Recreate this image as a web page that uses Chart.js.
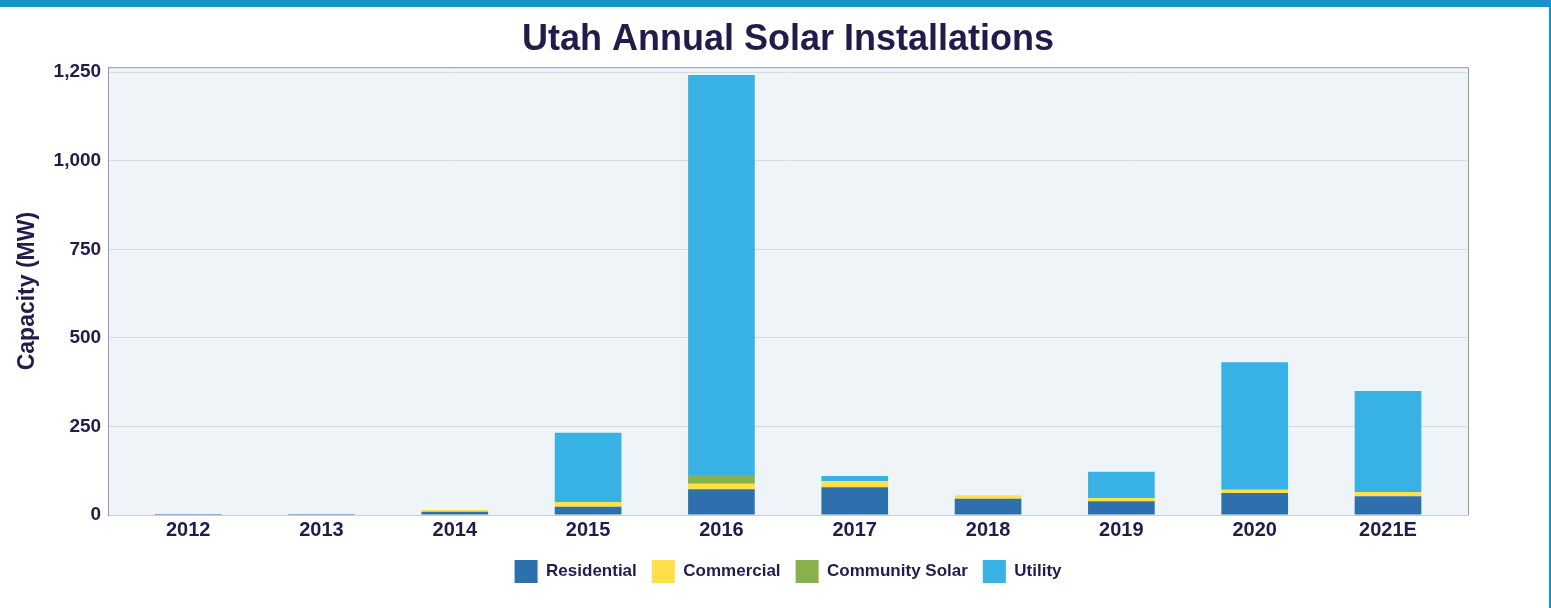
<!DOCTYPE html>
<html>
<head>
<meta charset="utf-8">
<script src="https://cdn.jsdelivr.net/npm/chart.js@4.4.1/dist/chart.umd.min.js"></script>
<style>
  html, body { margin: 0; padding: 0; background: #ffffff; }
  #wrap { position: relative; width: 1551px; height: 608px; overflow: hidden; }
  #topBand { position: absolute; left: 0; top: 0; width: 1551px; height: 7px; background: #1592c9; }
  #rightLine { position: absolute; left: 1549px; top: 0; width: 2px; height: 608px; background: #1592c9; }
  canvas { position: absolute; left: 0; top: 0; }
</style>
</head>
<body>
<div id="wrap">
  <canvas id="solarChart" width="1551" height="608"></canvas>
  <div id="topBand"></div>
  <div id="rightLine"></div>
</div>
<script>
// values (MW)
const years = ['2012', '2013', '2014', '2015', '2016', '2017', '2018', '2019', '2020', '2021E'];
const residential = [3, 3, 9, 23, 73, 78, 46, 39, 62, 53];
const commercial = [0, 0, 5, 14, 15, 18, 10, 9, 9, 12];
const communitySolar = [0, 0, 0, 0, 25, 0, 0, 0, 0, 0];
const utility = [0, 0, 0, 195, 1129, 14, 0, 74, 360, 285];
const yTicks = [0, 250, 500, 750, 1000, 1250];

const textColor = '#211c4b';
const fontFamily = '"Liberation Sans", Arial, sans-serif';

function toPoints(values) {
  return values.map((v, i) => ({ x: i, y: v }));
}

const plotBackground = {
  id: 'plotBackground',
  beforeDraw(chart) {
    const { ctx, chartArea } = chart;
    ctx.save();
    ctx.fillStyle = '#eef4f7';
    ctx.fillRect(chartArea.left, chartArea.top, chartArea.right - chartArea.left, chartArea.bottom - chartArea.top);
    ctx.restore();
  },
  afterDraw(chart) {
    const { ctx, chartArea } = chart;
    ctx.save();
    ctx.strokeStyle = '#8d9aa8';
    ctx.lineWidth = 1;
    ctx.beginPath();
    ctx.moveTo(chartArea.left, chartArea.top + 0.5);
    ctx.lineTo(chartArea.right + 0.5, chartArea.top + 0.5);
    ctx.lineTo(chartArea.right + 0.5, chartArea.bottom);
    ctx.stroke();
    ctx.restore();
  }
};

const ctx = document.getElementById('solarChart').getContext('2d');
const solarChart = new Chart(ctx, {
  type: 'bar',
  data: {
    datasets: [
      { label: 'Residential', data: toPoints(residential), backgroundColor: '#2e6fad' },
      { label: 'Commercial', data: toPoints(commercial), backgroundColor: '#ffe04b' },
      { label: 'Community Solar', data: toPoints(communitySolar), backgroundColor: '#88b04b' },
      { label: 'Utility', data: toPoints(utility), backgroundColor: '#38b2e4' }
    ]
  },
  options: {
    responsive: false,
    animation: false,
    datasets: {
      bar: {
        barPercentage: 0.5,
        categoryPercentage: 1,
        borderWidth: 0
      }
    },
    layout: {
      padding: { top: 18, left: 14, right: 83, bottom: 15 }
    },
    scales: {
      x: {
        type: 'linear',
        stacked: true,
        offset: false,
        min: -0.6,
        max: 9.6,
        afterBuildTicks: (scale) => {
          scale.ticks = years.map((_, i) => ({ value: i }));
        },
        ticks: {
          autoSkip: false,
          maxRotation: 0,
          padding: 3,
          color: textColor,
          font: { family: fontFamily, size: 20, weight: 'bold' },
          callback: (value) => years[value]
        },
        grid: { display: false, drawTicks: false },
        border: { display: true, color: '#c9cfd4', width: 1 }
      },
      y: {
        stacked: true,
        min: 0,
        max: 1264,
        afterBuildTicks: (scale) => {
          scale.ticks = yTicks.map(v => ({ value: v }));
        },
        ticks: {
          padding: 7,
          color: textColor,
          font: { family: fontFamily, size: 19, weight: 'bold' },
          callback: (value) => value.toLocaleString('en-US')
        },
        grid: { color: '#d5dbe0', lineWidth: 1, drawTicks: false },
        border: { display: true, color: '#8d9aa8', width: 1 },
        title: {
          display: true,
          text: 'Capacity (MW)',
          color: textColor,
          font: { family: fontFamily, size: 23, weight: 'bold' },
          padding: { top: 0, bottom: 5 }
        }
      }
    },
    plugins: {
      title: {
        display: true,
        fullSize: false,
        text: 'Utah Annual Solar Installations',
        color: textColor,
        font: { family: fontFamily, size: 36, weight: 'bold' },
        padding: { top: 0, bottom: 6 }
      },
      legend: {
        position: 'bottom',
        fullSize: false,
        labels: {
          boxWidth: 23,
          boxHeight: 23,
          padding: 15,
          color: textColor,
          font: { family: fontFamily, size: 17, weight: 'bold' }
        }
      },
      tooltip: { enabled: false }
    }
  },
  plugins: [plotBackground]
});
</script>
</body>
</html>
